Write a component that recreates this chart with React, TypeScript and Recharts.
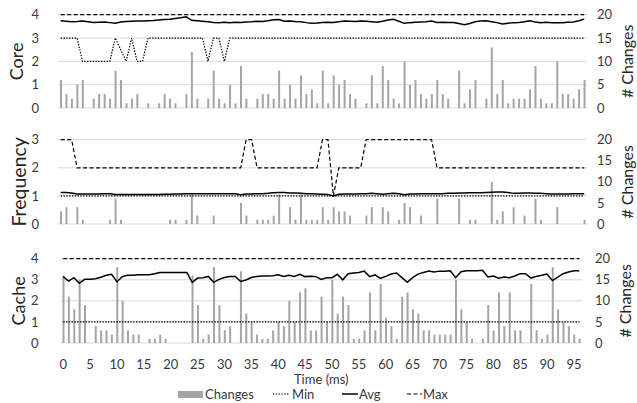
import React from 'react';
import { ComposedChart, Bar, Line, XAxis, YAxis, CartesianGrid } from 'recharts';

// time axis (ms), one sample per ms
const times = [
  0, 1, 2, 3, 4, 5, 6, 7, 8, 9, 10, 11, 12, 13, 14, 15, 16, 17, 18, 19,
  20, 21, 22, 23, 24, 25, 26, 27, 28, 29, 30, 31, 32, 33, 34, 35, 36, 37, 38, 39,
  40, 41, 42, 43, 44, 45, 46, 47, 48, 49, 50, 51, 52, 53, 54, 55, 56, 57, 58, 59,
  60, 61, 62, 63, 64, 65, 66, 67, 68, 69, 70, 71, 72, 73, 74, 75, 76, 77, 78, 79,
  80, 81, 82, 83, 84, 85, 86, 87, 88, 89, 90, 91, 92, 93, 94, 95, 96,
];

// Core panel
const coreChanges = [
  6, 3, 2, 5, 6, 0, 2, 3, 3, 2, 8, 6, 1, 2, 3, 0, 1, 0, 1, 3,
  2, 1, 0, 3, 12, 2, 0, 2, 8, 2, 1, 5, 1, 9, 2, 0, 2, 3, 3, 2,
  8, 2, 5, 2, 7, 3, 4, 1, 8, 1, 7, 5, 6, 3, 2, 0, 1, 7, 1, 9,
  6, 2, 1, 10, 5, 6, 3, 2, 3, 6, 3, 2, 0, 8, 1, 4, 6, 0, 2, 13,
  3, 6, 1, 2, 2, 2, 4, 9, 2, 1, 1, 10, 3, 3, 2, 4, 6,
];
const coreMin = [
  3, 3, 3, 3, 2, 2, 2, 2, 2, 2, 3, 2.5, 2, 3, 2, 2, 3, 3, 3, 3,
  3, 3, 3, 3, 3, 3, 3, 2, 3, 3, 2, 3, 3, 3, 3, 3, 3, 3, 3, 3,
  3, 3, 3, 3, 3, 3, 3, 3, 3, 3, 3, 3, 3, 3, 3, 3, 3, 3, 3, 3,
  3, 3, 3, 3, 3, 3, 3, 3, 3, 3, 3, 3, 3, 3, 3, 3, 3, 3, 3, 3,
  3, 3, 3, 3, 3, 3, 3, 3, 3, 3, 3, 3, 3, 3, 3, 3, 3,
];
const coreAvg = [
  3.74, 3.72, 3.7, 3.71, 3.73, 3.7, 3.67, 3.68, 3.69, 3.66,
  3.63, 3.69, 3.71, 3.72, 3.73, 3.73, 3.74, 3.75, 3.77, 3.79,
  3.81, 3.84, 3.87, 3.91, 3.76, 3.74, 3.72, 3.7, 3.67, 3.66,
  3.68, 3.66, 3.68, 3.67, 3.69, 3.7, 3.72, 3.71, 3.74, 3.78,
  3.79, 3.72, 3.73, 3.71, 3.7, 3.66, 3.63, 3.64, 3.67, 3.68,
  3.67, 3.7, 3.73, 3.72, 3.71, 3.73, 3.72, 3.7, 3.68, 3.72,
  3.77, 3.8, 3.72, 3.63, 3.66, 3.68, 3.69, 3.7, 3.73, 3.67,
  3.68, 3.67, 3.67, 3.62, 3.57, 3.62, 3.7, 3.73, 3.74, 3.7,
  3.66, 3.6, 3.63, 3.66, 3.67, 3.7, 3.74, 3.69, 3.66, 3.68,
  3.66, 3.66, 3.66, 3.68, 3.69, 3.74, 3.81,
];
const coreMax = [
  4, 4, 4, 4, 4, 4, 4, 4, 4, 4, 4, 4, 4, 4, 4, 4, 4, 4, 4, 4,
  4, 4, 4, 4, 4, 4, 4, 4, 4, 4, 4, 4, 4, 4, 4, 4, 4, 4, 4, 4,
  4, 4, 4, 4, 4, 4, 4, 4, 4, 4, 4, 4, 4, 4, 4, 4, 4, 4, 4, 4,
  4, 4, 4, 4, 4, 4, 4, 4, 4, 4, 4, 4, 4, 4, 4, 4, 4, 4, 4, 4,
  4, 4, 4, 4, 4, 4, 4, 4, 4, 4, 4, 4, 4, 4, 4, 4, 4,
];

// Frequency panel
const freqChanges = [
  3, 4, 0, 4, 1, 0, 0, 0, 0, 1, 6, 1, 0, 0, 0, 0, 0, 0, 0, 0,
  1, 1, 0, 1, 7, 2, 0, 0, 2, 0, 0, 0, 0, 5, 2, 0, 1, 1, 1, 2,
  7, 0, 4, 1, 7, 1, 1, 1, 4, 1, 4, 3, 3, 2, 0, 0, 2, 4, 0, 4,
  3, 0, 1, 5, 4, 0, 2, 0, 0, 6, 0, 0, 0, 6, 0, 1, 1, 0, 0, 10,
  1, 3, 0, 4, 0, 2, 0, 6, 1, 0, 0, 4, 0, 0, 0, 0, 1,
];
const freqMin = [
  1, 1, 1, 1, 1, 1, 1, 1, 1, 1, 1, 1, 1, 1, 1, 1, 1, 1, 1, 1,
  1, 1, 1, 1, 1, 1, 1, 1, 1, 1, 1, 1, 1, 1, 1, 1, 1, 1, 1, 1,
  1, 1, 1, 1, 1, 1, 1, 1, 1, 1, 1, 1, 1, 1, 1, 1, 1, 1, 1, 1,
  1, 1, 1, 1, 1, 1, 1, 1, 1, 1, 1, 1, 1, 1, 1, 1, 1, 1, 1, 1,
  1, 1, 1, 1, 1, 1, 1, 1, 1, 1, 1, 1, 1, 1, 1, 1, 1,
];
const freqAvg = [
  1.12, 1.12, 1.1, 1.07, 1.07, 1.07, 1.07, 1.07, 1.08, 1.08,
  1.05, 1.05, 1.05, 1.05, 1.05, 1.05, 1.05, 1.05, 1.05, 1.06,
  1.06, 1.07, 1.07, 1.08, 1.08, 1.08, 1.08, 1.08, 1.08, 1.08,
  1.08, 1.08, 1.08, 1.04, 1.07, 1.07, 1.08, 1.08, 1.09, 1.11,
  1.12, 1.12, 1.1, 1.1, 1.09, 1.08, 1.08, 1.07, 1.06, 1.05,
  1.0, 1.06, 1.07, 1.07, 1.07, 1.08, 1.08, 1.09, 1.08, 1.06,
  1.08, 1.09, 1.08, 1.04, 1.07, 1.07, 1.08, 1.08, 1.08, 1.08,
  1.08, 1.09, 1.09, 1.1, 1.1, 1.11, 1.11, 1.11, 1.12, 1.13,
  1.14, 1.14, 1.12, 1.09, 1.09, 1.1, 1.1, 1.09, 1.09, 1.08,
  1.07, 1.07, 1.07, 1.07, 1.08, 1.08, 1.08,
];
const freqMax = [
  3, 3, 3, 2, 2, 2, 2, 2, 2, 2, 2, 2, 2, 2, 2, 2, 2, 2, 2, 2,
  2, 2, 2, 2, 2, 2, 2, 2, 2, 2, 2, 2, 2, 2, 3, 3, 2, 2, 2, 2,
  2, 2, 2, 2, 2, 2, 2, 2, 3, 3, 1, 2, 2, 2, 2, 2, 3, 3, 3, 3,
  3, 3, 3, 3, 3, 3, 3, 3, 3, 2, 2, 2, 2, 2, 2, 2, 2, 2, 2, 2,
  2, 2, 2, 2, 2, 2, 2, 2, 2, 2, 2, 2, 2, 2, 2, 2, 2,
];

// Cache panel
const cacheChanges = [
  16, 11, 8, 15, 9, 0, 4, 3, 3, 2, 18, 10, 3, 2, 2, 0, 1, 1, 2, 1,
  0, 0, 0, 0, 16, 9, 1, 2, 18, 9, 3, 4, 0, 17, 7, 5, 2, 1, 1, 3,
  5, 4, 10, 5, 12, 13, 3, 3, 11, 5, 15, 7, 11, 9, 1, 1, 3, 12, 3, 14,
  6, 4, 1, 11, 12, 8, 7, 3, 3, 2, 2, 2, 2, 15, 8, 5, 1, 0, 1, 9,
  3, 12, 4, 12, 3, 3, 0, 14, 3, 1, 2, 18, 8, 5, 4, 2, 1,
];
const cacheMin = [
  1, 1, 1, 1, 1, 1, 1, 1, 1, 1, 1, 1, 1, 1, 1, 1, 1, 1, 1, 1,
  1, 1, 1, 1, 1, 1, 1, 1, 1, 1, 1, 1, 1, 1, 1, 1, 1, 1, 1, 1,
  1, 1, 1, 1, 1, 1, 1, 1, 1, 1, 1, 1, 1, 1, 1, 1, 1, 1, 1, 1,
  1, 1, 1, 1, 1, 1, 1, 1, 1, 1, 1, 1, 1, 1, 1, 1, 1, 1, 1, 1,
  1, 1, 1, 1, 1, 1, 1, 1, 1, 1, 1, 1, 1, 1, 1, 1, 1,
];
const cacheAvg = [
  3.15, 2.94, 3.1, 2.83, 3.02, 3.02, 3.05, 3.12, 3.21, 3.26,
  2.91, 3.15, 3.21, 3.21, 3.24, 3.24, 3.24, 3.29, 3.34, 3.35,
  3.35, 3.35, 3.35, 3.35, 2.88, 3.08, 3.1, 3.16, 2.88, 3.02,
  3.11, 3.16, 3.16, 2.92, 2.99, 3.11, 3.16, 3.18, 3.18, 3.19,
  3.24, 3.16, 3.21, 3.16, 3.26, 3.15, 3.17, 3.15, 3.02, 3.1,
  3.1, 3.26, 3.0, 3.29, 3.32, 3.35, 3.41, 3.15, 3.23, 3.07,
  3.16, 3.27, 3.32, 3.1, 2.88, 3.1, 3.27, 3.35, 3.41, 3.37,
  3.41, 3.41, 3.43, 3.1, 3.38, 3.43, 3.43, 3.43, 3.45, 3.13,
  3.18, 3.07, 3.13, 3.1, 3.18, 3.29, 3.29, 3.08, 3.16, 3.21,
  3.27, 2.96, 3.13, 3.29, 3.37, 3.43, 3.43,
];
const cacheMax = [
  4, 4, 4, 4, 4, 4, 4, 4, 4, 4, 4, 4, 4, 4, 4, 4, 4, 4, 4, 4,
  4, 4, 4, 4, 4, 4, 4, 4, 4, 4, 4, 4, 4, 4, 4, 4, 4, 4, 4, 4,
  4, 4, 4, 4, 4, 4, 4, 4, 4, 4, 4, 4, 4, 4, 4, 4, 4, 4, 4, 4,
  4, 4, 4, 4, 4, 4, 4, 4, 4, 4, 4, 4, 4, 4, 4, 4, 4, 4, 4, 4,
  4, 4, 4, 4, 4, 4, 4, 4, 4, 4, 4, 4, 4, 4, 4, 4, 4,
];

const changeTicks = [0, 5, 10, 15, 20];

const FONT = 'Lato, "Open Sans", sans-serif';
const TEXT = '#3a3a3a';
const GRID = '#d9d9d9';
const BAR = '#a5a5a5';

const rows = (changes: number[], min: number[], avg: number[], max: number[]) =>
  times.map((t, i) => ({ t, changes: changes[i], min: min[i], avg: avg[i], max: max[i] }));

interface PanelProps {
  name: string;
  data: ReturnType<typeof rows>;
  leftTicks: number[];
  top: number;
  plotHeight: number;
  leftWidth: number;
  rightWidth: number;
  leftMargin: number;
  rightMargin: number;
  nameDx: number;
  nameSize: number;
  changesDx: number;
  showX?: boolean;
}

const Panel: React.FC<PanelProps> = ({
  name, data, leftTicks, top, plotHeight, leftWidth, rightWidth,
  leftMargin, rightMargin, nameDx, nameSize, changesDx, showX,
}) => {
  const marginTop = 14.7;
  const marginBottom = showX ? 0 : 10;
  const xHeight = showX ? 45 : 0;
  return (
    <div style={{ position: 'absolute', left: 0, top }}>
      <ComposedChart
        width={637}
        height={marginTop + plotHeight + xHeight + marginBottom}
        data={data}
        margin={{ top: marginTop, right: 0, bottom: marginBottom, left: 0 }}
        barCategoryGap={0}
      >
        <CartesianGrid yAxisId="left" vertical={false} stroke={GRID} strokeWidth={1} />
        <XAxis
          dataKey="t"
          interval={4}
          hide={!showX}
          height={45}
          axisLine={false}
          tickLine={false}
          tickSize={0}
          tickMargin={17}
          tick={{ fontSize: 13, fill: TEXT, fontFamily: FONT }}
          label={{
            value: 'Time (ms)', position: 'insideBottom', offset: 4,
            fontSize: 13, fill: TEXT, fontFamily: FONT,
          }}
        />
        <YAxis
          yAxisId="left"
          domain={[0, leftTicks[leftTicks.length - 1]]}
          ticks={leftTicks}
          interval={0}
          width={leftWidth}
          axisLine={false}
          tickLine={false}
          tickSize={0}
          tickMargin={leftMargin}
          tick={{ fontSize: 13, fill: TEXT, fontFamily: FONT }}
          label={{
            value: name, angle: -90, position: 'center', dx: nameDx,
            fontSize: nameSize, fill: '#262626', fontFamily: FONT,
          }}
        />
        <YAxis
          yAxisId="right"
          orientation="right"
          domain={[0, 20]}
          ticks={changeTicks}
          interval={0}
          width={rightWidth}
          axisLine={false}
          tickLine={false}
          tickSize={0}
          tickMargin={rightMargin}
          tick={{ fontSize: 13, fill: TEXT, fontFamily: FONT }}
          label={{
            value: '# Changes', angle: -90, position: 'center', dx: changesDx,
            fontSize: 16, fill: '#262626', fontFamily: FONT,
          }}
        />
        <Bar yAxisId="right" dataKey="changes" fill={BAR} barSize={2} isAnimationActive={false} />
        <Line yAxisId="left" dataKey="min" stroke="#000" strokeWidth={1.2} strokeDasharray="1.4 1.4"
          dot={false} activeDot={false} isAnimationActive={false} />
        <Line yAxisId="left" dataKey="avg" stroke="#000" strokeWidth={1.5}
          dot={false} activeDot={false} isAnimationActive={false} />
        <Line yAxisId="left" dataKey="max" stroke="#000" strokeWidth={1.2} strokeDasharray="4 2.5"
          dot={false} activeDot={false} isAnimationActive={false} />
      </ComposedChart>
    </div>
  );
};

const ChartLegend = () => (
  <svg width={637} height={17} style={{ position: 'absolute', left: 0, top: 386 }}>
    <g fontFamily={FONT} fontSize={13} fill={TEXT}>
      <rect x={178} y={5} width={25} height={7} fill={BAR} />
      <text x={205} y={12.5}>Changes</text>
      <line x1={273} x2={289} y1={8} y2={8} stroke="#000" strokeWidth={1.2} strokeDasharray="1.4 1.4" />
      <text x={292} y={12.5}>Min</text>
      <line x1={342} x2={358} y1={8} y2={8} stroke="#000" strokeWidth={1.5} />
      <text x={359} y={12.5}>Avg</text>
      <line x1={407} x2={422} y1={8} y2={8} stroke="#000" strokeWidth={1.2} strokeDasharray="4 2.5" />
      <text x={423} y={12.5}>Max</text>
    </g>
  </svg>
);

export default function App() {
  return (
    <div style={{ position: 'absolute', left: 0, top: 0, width: 637, height: 403, background: '#fff', fontFamily: FONT, overflow: 'hidden' }}>
      <Panel name="Core" data={rows(coreChanges, coreMin, coreAvg, coreMax)} leftTicks={[0, 1, 2, 3, 4]}
        top={0} plotHeight={93.3} leftWidth={58} rightWidth={50} leftMargin={19} rightMargin={10}
        nameDx={-12} nameSize={18} changesDx={15} />
      <Panel name="Frequency" data={rows(freqChanges, freqMin, freqAvg, freqMax)} leftTicks={[0, 1, 2, 3]}
        top={125} plotHeight={84.3} leftWidth={58} rightWidth={50} leftMargin={19} rightMargin={10}
        nameDx={-10} nameSize={19.5} changesDx={15} />
      <Panel name="Cache" data={rows(cacheChanges, cacheMin, cacheAvg, cacheMax)} leftTicks={[0, 1, 2, 3, 4]}
        top={244} plotHeight={84.3} leftWidth={60.5} rightWidth={55} leftMargin={22} rightMargin={13}
        nameDx={-12} nameSize={18} changesDx={16} showX />
      <ChartLegend />
    </div>
  );
}
